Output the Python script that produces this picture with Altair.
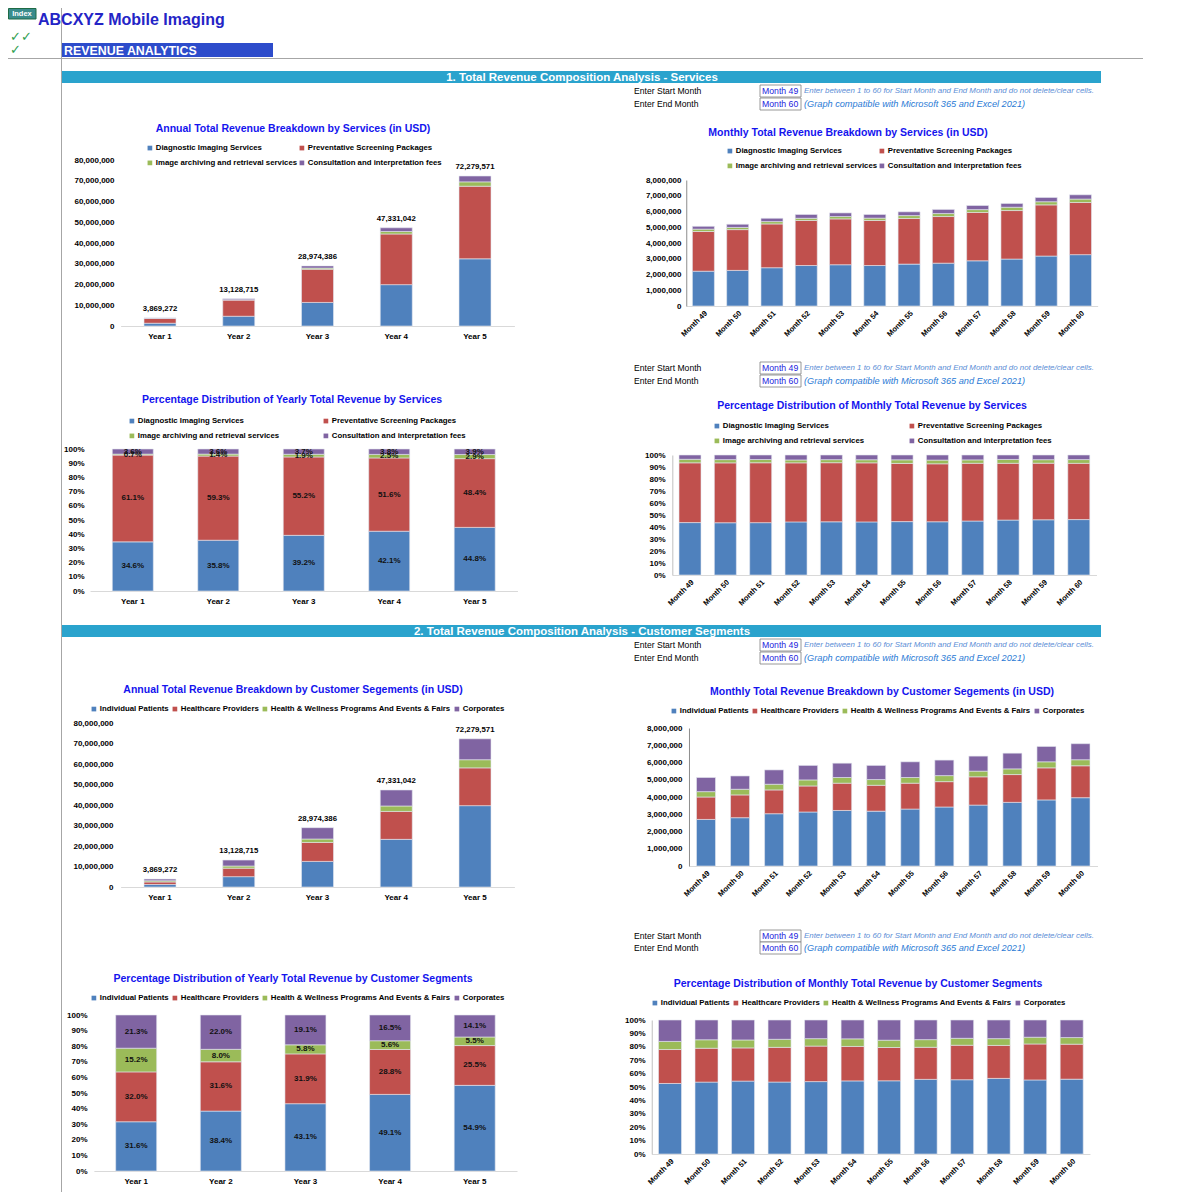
import altair as alt
import pandas as pd

W = H = 1184
M = 8
FONT = "Liberation Sans"

# ---------------- data ----------------
YEARS = ["Year 1", "Year 2", "Year 3", "Year 4", "Year 5"]
MONTHS = ["Month 49", "Month 50", "Month 51", "Month 52", "Month 53", "Month 54",
          "Month 55", "Month 56", "Month 57", "Month 58", "Month 59", "Month 60"]
SERVICES = ["Diagnostic Imaging Services", "Preventative Screening Packages",
            "Image archiving and retrieval services", "Consultation and interpretation fees"]
SEGMENTS = ["Individual Patients", "Healthcare Providers",
            "Health & Wellness Programs And Events & Fairs", "Corporates"]
COLORS = ["#4F81BD", "#C0504D", "#9BBB59", "#8064A2"]

YEAR_TOTALS = [3869272, 13128715, 28974386, 47331042, 72279571]

# yearly % split by service
SVC_PCT_DIAG = [34.6, 35.8, 39.2, 42.1, 44.8]
SVC_PCT_PREV = [61.1, 59.3, 55.2, 51.6, 48.4]
SVC_PCT_ARCH = [0.7, 1.4, 1.9, 2.5, 2.9]
SVC_PCT_CONS = [3.6, 3.6, 3.7, 3.8, 3.9]

# yearly % split by customer segment
SEG_PCT_IND = [31.6, 38.4, 43.1, 49.1, 54.9]
SEG_PCT_HCP = [32.0, 31.6, 31.9, 28.8, 25.5]
SEG_PCT_HWP = [15.2, 8.0, 5.8, 5.6, 5.5]
SEG_PCT_CORP = [21.3, 22.0, 19.1, 16.5, 14.1]

# monthly revenue by service (USD)
SVC_M_DIAG = [2210000, 2260000, 2430000, 2570000, 2620000, 2570000, 2660000, 2720000, 2870000, 2980000, 3170000, 3260000]
SVC_M_PREV = [2520000, 2590000, 2780000, 2860000, 2910000, 2860000, 2900000, 2960000, 3070000, 3080000, 3250000, 3310000]
SVC_M_ARCH = [150000, 140000, 150000, 140000, 150000, 150000, 180000, 190000, 180000, 210000, 200000, 220000]
SVC_M_CONS = [180000, 200000, 210000, 240000, 230000, 230000, 240000, 260000, 260000, 240000, 270000, 270000]

# monthly revenue by customer segment (USD)
SEG_M_IND = [2700000, 2800000, 3030000, 3130000, 3220000, 3180000, 3300000, 3420000, 3530000, 3690000, 3830000, 3960000]
SEG_M_HCP = [1300000, 1320000, 1380000, 1510000, 1580000, 1500000, 1500000, 1470000, 1640000, 1610000, 1860000, 1850000]
SEG_M_HWP = [310000, 330000, 330000, 350000, 330000, 330000, 330000, 350000, 330000, 330000, 350000, 350000]
SEG_M_CORP = [820000, 770000, 830000, 840000, 830000, 820000, 910000, 900000, 870000, 910000, 890000, 930000]

TITLE_COLOR = "#1414EE"


def px(v):
    return v - M


def long_table(cats, series, arrays, totals=None):
    rows = []
    for si, (s, arr) in enumerate(zip(series, arrays)):
        for ci, (c, v) in enumerate(zip(cats, arr)):
            r = {"cat": c, "series": s, "order": si, "v": v}
            if totals is not None:
                r["total"] = totals[ci]
            rows.append(r)
    return pd.DataFrame(rows)


def legend(x, y, cols, colpad, rowpad=6):
    return alt.Legend(orient="none", legendX=px(x), legendY=px(y) - 4, direction="horizontal",
                      columns=cols, columnPadding=colpad, rowPadding=rowpad, title=None,
                      labelFont=FONT, labelFontSize=7.8, labelFontWeight="bold", labelColor="#000",
                      symbolType="square", symbolSize=22, symbolStrokeWidth=0, labelOffset=2,
                      labelLimit=400, padding=0)


def panel(df, cats, series, centers, barw, ybase, ytop, ymax, yvals, yfmt, ylab_end,
          monthly, leg, mode, totals=None, pct_labels=False, ydom=None):
    n = len(cats)
    step = (centers[1] - centers[0]) / (n - 1)
    r0 = centers[0] - step / 2
    r1 = centers[1] + step / 2
    pin = 1 - barw / step
    xs = alt.Scale(domain=cats, range=[px(r0), px(r1)], paddingInner=pin, paddingOuter=pin / 2)
    ys = alt.Scale(domain=[0, ymax], range=[px(ybase), px(ytop)], nice=False, zero=True)
    xaxis = alt.Axis(orient="bottom", offset=px(ybase) - H, title=None, ticks=False, grid=False,
                     domainColor="#D9D9D9", domainWidth=1, labelFont=FONT,
                     labelFontSize=7.5 if monthly else 8, labelFontWeight="bold", labelColor="#000",
                     labelAngle=-45 if monthly else 0, labelPadding=3 if monthly else 6,
                     labelOverlap=False)
    yaxis = alt.Axis(orient="left", offset=-px(r0), title=None, ticks=False, grid=False,
                     domain=ydom is not None, domainColor=ydom if ydom else "#000",
                     values=yvals, format=yfmt, labelFont=FONT, labelFontSize=8,
                     labelFontWeight="bold", labelColor="#000", labelPadding=r0 - ylab_end,
                     labelOverlap=False, labelFlush=False)
    calc = "datum.total * datum.v / 100" if mode == "usd" else "datum.v"
    base = alt.Chart(df).transform_calculate(val=calc).transform_stack(
        stack="val", groupby=["cat"], as_=["y0", "y1"],
        offset="normalize" if mode == "pct" else "zero",
        sort=[alt.SortField("order", order="ascending")])
    bars = base.mark_bar(stroke="#E4E8F0", strokeWidth=0.6).encode(
        x=alt.X("cat:N", scale=xs, axis=xaxis),
        y=alt.Y("y0:Q", scale=ys, axis=yaxis),
        y2="y1:Q",
        color=alt.Color("series:N", scale=alt.Scale(domain=series, range=COLORS), legend=leg),
    )
    layers = [bars]
    if totals is not None:
        tdf = pd.DataFrame({"cat": cats, "total": totals})
        layers.append(alt.Chart(tdf).mark_text(font=FONT, fontSize=7.8, fontWeight="bold",
                                               color="#000", baseline="bottom", dy=-5).encode(
            x=alt.X("cat:N", scale=xs, axis=xaxis),
            y=alt.Y("total:Q", scale=ys, axis=yaxis),
            text=alt.Text("total:Q", format=","),
        ))
    if pct_labels:
        layers.append(base.transform_calculate(
            mid="(datum.y0 + datum.y1) / 2",
            lab="format(datum.v, '.1f') + '%'").mark_text(
            font=FONT, fontSize=8, fontWeight="bold", color="#111").encode(
            x=alt.X("cat:N", scale=xs, axis=xaxis),
            y=alt.Y("mid:Q", scale=ys, axis=yaxis),
            text="lab:N",
        ))
    return alt.layer(*layers)


# ---------------- decorations ----------------
ONE = alt.Data(values=[{"k": 1}])


def txt(x, y, s, size, color="#000", weight="normal", style="normal", align="left", font=FONT):
    return alt.Chart(ONE).mark_text(text=s, font=font, fontSize=size, color=color,
                                    fontWeight=weight, fontStyle=style, align=align,
                                    baseline="middle").encode(x=alt.value(px(x)), y=alt.value(px(y)))


def box(x0, x1, y0, y1, fill, stroke=None, sw=1.0):
    kw = dict(fill=fill)
    if stroke:
        kw.update(stroke=stroke, strokeWidth=sw)
    return alt.Chart(ONE).mark_rect(**kw).encode(
        x=alt.value(px(x0)), x2=alt.value(px(x1)), y=alt.value(px(y0)), y2=alt.value(px(y1)))


def line(x0, x1, y0, y1, color="#A6A6A6", sw=1.0):
    return alt.Chart(ONE).mark_rule(color=color, strokeWidth=sw).encode(
        x=alt.value(px(x0)), x2=alt.value(px(x1)), y=alt.value(px(y0)), y2=alt.value(px(y1)))


decor = [
    line(8, 1143, 58.5, 58.5),
    line(61.5, 61.5, 8, 1200),
    box(8.5, 36, 8.5, 19, "#3A8C8C", "#1E6B45", 1),
    txt(22, 14, "Index", 7.5, "white", "bold", align="center"),
    txt(38, 20, "ABCXYZ Mobile Imaging", 16, "#2424C6", "bold"),
    txt(10, 37, "\u2713\u2713", 13, "#2E9E50", font="DejaVu Sans"),
    txt(10, 50, "\u2713", 13, "#2E9E50", font="DejaVu Sans"),
    box(62, 273, 43, 57, "#2D4CCB"),
    txt(64, 50.5, "REVENUE ANALYTICS", 12.4, "white", "bold"),
    box(62, 1101, 71, 83, "#2AA3CD"),
    txt(582, 77.5, "1. Total Revenue Composition Analysis - Services", 11.5, "white", "bold", align="center"),
    box(62, 1101, 625, 637, "#2AA3CD"),
    txt(582, 631.5, "2. Total Revenue Composition Analysis - Customer Segments", 11.5, "white", "bold", align="center"),
]

for (ya, yb) in [(91, 104), (368, 381), (645, 658), (936, 948)]:
    decor += [
        txt(634, ya, "Enter Start Month", 8.6),
        txt(634, yb, "Enter End Month", 8.6),
        box(760, 801, ya - 6, ya + 6, "white", "#7F7F7F", 0.8),
        box(760, 801, yb - 6, yb + 6, "white", "#7F7F7F", 0.8),
        txt(762, ya - 0.5, "Month 49", 8.7, "#2222DD"),
        txt(762, yb - 0.5, "Month 60", 8.7, "#2222DD"),
        txt(804, ya, "Enter between 1 to 60 for Start Month and End Month and do not delete/clear cells.",
            7.9, "#5B8ED6", style="italic"),
        txt(804, yb, "(Graph compatible with Microsoft 365 and Excel 2021)", 9.2, "#2A7AD5", style="italic"),
    ]

titles = [
    txt(293, 129, "Annual Total Revenue Breakdown by Services (in USD)", 10.5, TITLE_COLOR, "bold", align="center"),
    txt(848, 133, "Monthly Total Revenue Breakdown by Services (in USD)", 10.5, TITLE_COLOR, "bold", align="center"),
    txt(292, 400, "Percentage Distribution of Yearly Total Revenue by Services", 10.5, TITLE_COLOR, "bold", align="center"),
    txt(872, 406, "Percentage Distribution of Monthly Total Revenue by Services", 10.5, TITLE_COLOR, "bold", align="center"),
    txt(293, 690, "Annual Total Revenue Breakdown by Customer Segements (in USD)", 10.5, TITLE_COLOR, "bold", align="center"),
    txt(882, 692, "Monthly Total Revenue Breakdown by Customer Segements (in USD)", 10.5, TITLE_COLOR, "bold", align="center"),
    txt(293, 979, "Percentage Distribution of Yearly Total Revenue by Customer Segments", 10.5, TITLE_COLOR, "bold", align="center"),
    txt(858, 984, "Percentage Distribution of Monthly Total Revenue by Customer Segments", 10.5, TITLE_COLOR, "bold", align="center"),
]

# ---------------- panels ----------------
svc_year = long_table(YEARS, SERVICES, [SVC_PCT_DIAG, SVC_PCT_PREV, SVC_PCT_ARCH, SVC_PCT_CONS], YEAR_TOTALS)
seg_year = long_table(YEARS, SEGMENTS, [SEG_PCT_IND, SEG_PCT_HCP, SEG_PCT_HWP, SEG_PCT_CORP], YEAR_TOTALS)
svc_month = long_table(MONTHS, SERVICES, [SVC_M_DIAG, SVC_M_PREV, SVC_M_ARCH, SVC_M_CONS])
seg_month = long_table(MONTHS, SEGMENTS, [SEG_M_IND, SEG_M_HCP, SEG_M_HWP, SEG_M_CORP])

usd_year_ticks = [i * 10000000 for i in range(9)]
usd_month_ticks = [i * 1000000 for i in range(9)]
pct_ticks = [i / 10 for i in range(11)]

panels = [
    panel(svc_year, YEARS, SERVICES, [160, 475], 32, 326, 160, 80000000, usd_year_ticks, ",.0f", 114,
          False, legend(146, 148, 2, 0), "usd", totals=YEAR_TOTALS),
    panel(svc_month, MONTHS, SERVICES, [703.4, 1080.5], 22, 306, 180, 8000000, usd_month_ticks, ",.0f", 681,
          True, legend(726, 151, 2, 0), "abs", ydom="#8C8C8C"),
    panel(svc_year, YEARS, SERVICES, [132.8, 474.7], 41, 591, 449, 1, pct_ticks, ".0%", 84,
          False, legend(128, 421, 2, 42), "pct", pct_labels=True),
    panel(svc_month, MONTHS, SERVICES, [690, 1078.8], 22, 575, 455, 1, pct_ticks, ".0%", 665,
          True, legend(713, 426, 2, 43), "pct", ydom="#BFBFBF"),
    panel(seg_year, YEARS, SEGMENTS, [160, 475], 32, 887, 723, 80000000, usd_year_ticks, ",.0f", 113,
          False, legend(90, 709, 4, 2), "usd", totals=YEAR_TOTALS),
    panel(seg_month, MONTHS, SEGMENTS, [706, 1080.5], 19, 866, 728, 8000000, usd_month_ticks, ",.0f", 682,
          True, legend(670, 711, 4, 2), "abs", ydom="#8C8C8C"),
    panel(seg_year, YEARS, SEGMENTS, [136.2, 474.7], 41, 1171, 1015, 1, pct_ticks, ".0%", 87,
          False, legend(90, 998, 4, 2), "pct", pct_labels=True),
    panel(seg_month, MONTHS, SEGMENTS, [670, 1071.7], 23, 1154, 1020, 1, pct_ticks, ".0%", 645,
          True, legend(651, 1003, 4, 2), "pct", ydom="#BFBFBF"),
]

chart = alt.layer(*decor, *titles, *panels).resolve_scale(
    x="independent", y="independent", color="independent"
).properties(
    width=W, height=H, autosize=alt.AutoSizeParams(type="none"), padding=0, background="white"
).configure_view(stroke=None)

chart.save("out.html", embed_options={"renderer": "svg", "actions": False})
